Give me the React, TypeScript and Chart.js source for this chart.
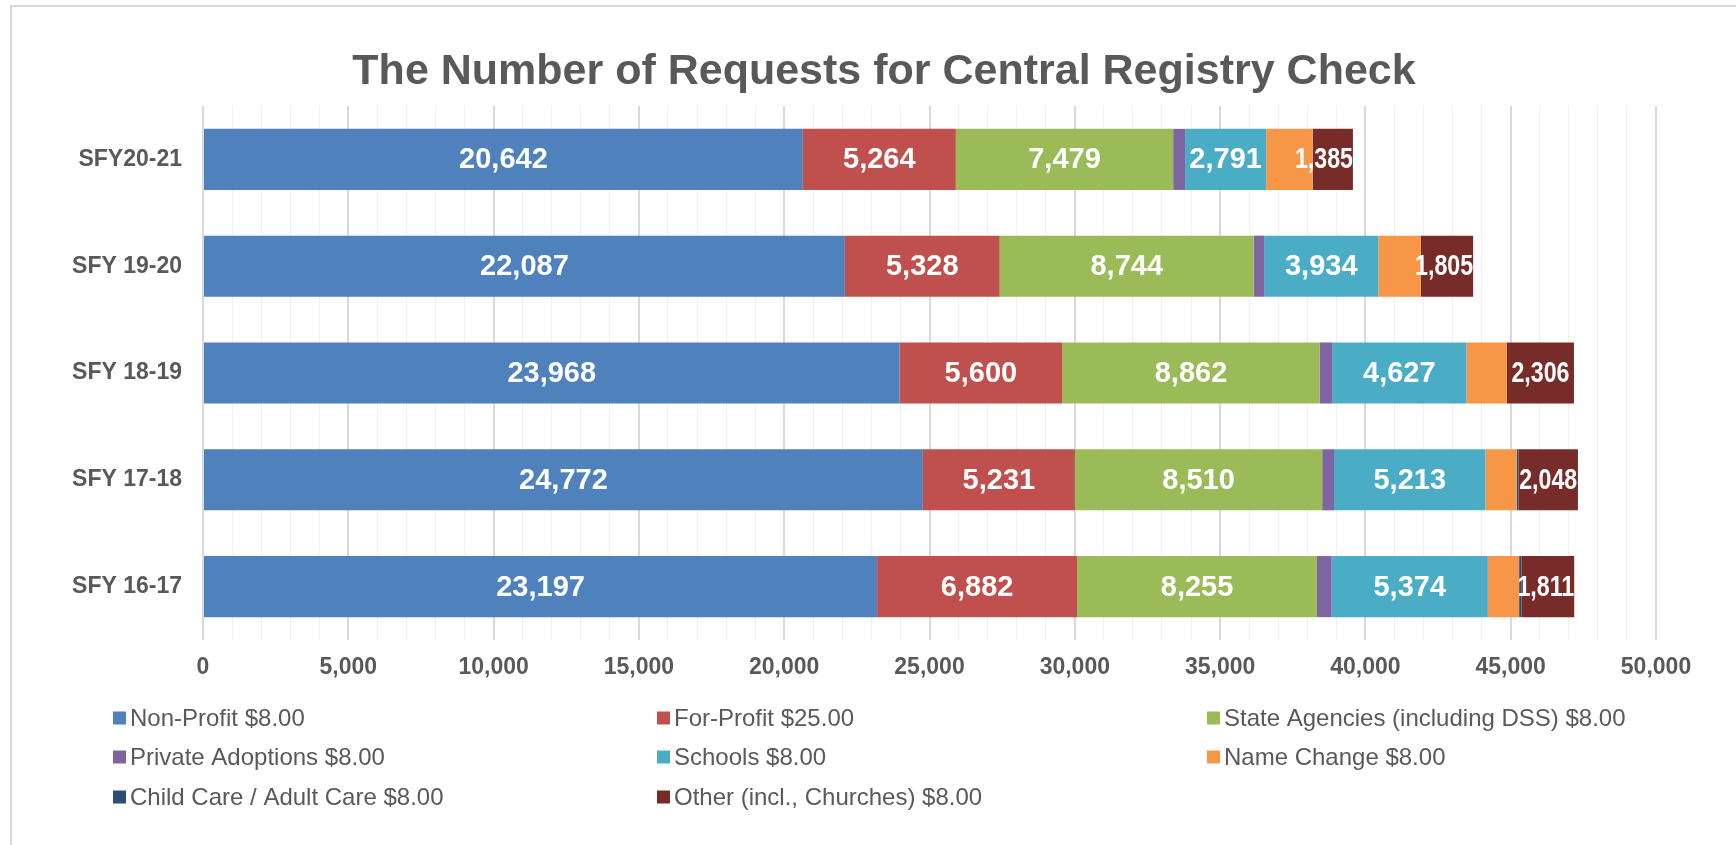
import React, { useEffect, useRef } from "react";
import { Chart, registerables } from "chart.js";

Chart.register(...registerables);

const categories = ["SFY20-21", "SFY 19-20", "SFY 18-19", "SFY 17-18", "SFY 16-17"];
const seriesNames = [
  "Non-Profit $8.00",
  "For-Profit $25.00",
  "State Agencies (including DSS) $8.00",
  "Private Adoptions $8.00",
  "Schools $8.00",
  "Name Change $8.00",
  "Child Care / Adult Care $8.00",
  "Other (incl., Churches) $8.00",
];
const nonProfit = [20642, 22087, 23968, 24772, 23197];
const forProfit = [5264, 5328, 5600, 5231, 6882];
const stateAgencies = [7479, 8744, 8862, 8510, 8255];
const privateAdoptions = [410, 355, 424, 406, 505];
const schools = [2791, 3934, 4627, 5213, 5374];
const nameChange = [1600, 1455, 1390, 1074, 1077];
const childCare = [0, 0, 0, 60, 85];
const other = [1385, 1805, 2306, 2048, 1811];
const labelled = [true, true, true, false, true, false, false, true];
const colors = ["#4F81BD", "#C0504D", "#9BBB59", "#8064A2", "#4BACC6", "#F79646", "#2C4D75", "#772C2A"];
const titleText = "The Number of Requests for Central Registry Check";
const xTicksMax = 50000;

const FONT = "'Liberation Sans', Arial, sans-serif";
const GREY = "#595959";

const titlePlugin = {
  id: "customTitle",
  afterDraw(chart: any) {
    const ctx = chart.ctx;
    ctx.save();
    ctx.font = `bold 43px ${FONT}`;
    ctx.fillStyle = GREY;
    ctx.textAlign = "center";
    ctx.textBaseline = "middle";
    ctx.fillText(titleText, 884, 72);
    ctx.restore();
  },
};

const dataLabelPlugin = {
  id: "dataLabels",
  afterDatasetsDraw(chart: any) {
    const ctx = chart.ctx;
    ctx.save();
    ctx.font = `bold 29px ${FONT}`;
    ctx.fillStyle = "#ffffff";
    ctx.textBaseline = "middle";
    ctx.textAlign = "center";
    chart.data.datasets.forEach((ds: any, i: number) => {
      if (!labelled[i]) return;
      const meta = chart.getDatasetMeta(i);
      const isLast = i === chart.data.datasets.length - 1;
      meta.data.forEach((el: any, j: number) => {
        const v = ds.data[j];
        if (!v) return;
        const { x, base, y } = el.getProps(["x", "base", "y"], true);
        const text = v.toLocaleString("en-US");
        const sx = isLast ? 0.8 : 1;
        const w = ctx.measureText(text).width * sx;
        const segW = x - base;
        let cx = (x + base) / 2;
        if (w > segW) cx = x - w / 2;
        ctx.save();
        ctx.translate(cx, y + 1);
        ctx.scale(sx, 1);
        ctx.fillText(text, 0, 0);
        ctx.restore();
      });
    });
    ctx.restore();
  },
};

const legendPlugin = {
  id: "gridLegend",
  afterDraw(chart: any) {
    const ctx = chart.ctx;
    const colX = [113, 657, 1207];
    const rowY = [718, 757, 797];
    ctx.save();
    ctx.font = `24px ${FONT}`;
    ctx.textBaseline = "middle";
    ctx.textAlign = "left";
    chart.data.datasets.forEach((ds: any, i: number) => {
      const cx = colX[i % 3];
      const cy = rowY[Math.floor(i / 3)];
      ctx.fillStyle = ds.backgroundColor;
      ctx.fillRect(cx, cy - 6.5, 13, 13);
      ctx.fillStyle = GREY;
      ctx.fillText(ds.label, cx + 17, cy + 1);
    });
    ctx.restore();
  },
};

export default function App() {
  const ref = useRef<HTMLCanvasElement>(null);
  useEffect(() => {
    const values = [nonProfit, forProfit, stateAgencies, privateAdoptions, schools, nameChange, childCare, other];
    const chart = new Chart(ref.current!, {
      type: "bar",
      data: {
        labels: categories,
        datasets: values.map((d, i) => ({
          label: seriesNames[i],
          data: d,
          backgroundColor: colors[i],
          borderWidth: 0,
          categoryPercentage: 1,
          barPercentage: 0.572,
        })),
      },
      options: {
        indexAxis: "y",
        responsive: false,
        animation: false,
        layout: { padding: { left: 0, right: 80, top: 106, bottom: 163 } },
        plugins: {
          legend: { display: false },
          tooltip: { enabled: false },
          title: { display: false },
        },
        scales: {
          x: {
            stacked: true,
            min: 0,
            max: xTicksMax,
            border: { display: false },
            grid: {
              drawTicks: false,
              color: (c: any) => (c.tick && c.tick.value % 5000 === 0 ? "#d9d9d9" : "#efefef"),
              lineWidth: (c: any) => (c.tick && c.tick.value % 5000 === 0 ? 2 : 1),
            },
            ticks: {
              stepSize: 1000,
              autoSkip: false,
              maxRotation: 0,
              padding: 14,
              color: GREY,
              font: { family: FONT, size: 23, weight: "bold" },
              callback: (v: any) => (Number(v) % 5000 === 0 ? Number(v).toLocaleString("en-US") : ""),
            },
            afterFit: (s: any) => {
              s.height = 42;
            },
          },
          y: {
            stacked: true,
            border: { display: false },
            grid: { display: false, drawTicks: false },
            ticks: {
              padding: 21,
              color: GREY,
              font: { family: FONT, size: 23, weight: "bold" },
            },
            afterFit: (s: any) => {
              s.width = 203;
            },
          },
        },
      },
      plugins: [dataLabelPlugin, legendPlugin, titlePlugin],
    });
    return () => chart.destroy();
  }, []);

  return (
    <div style={{ position: "fixed", left: 0, top: 0, width: 1736, height: 845, background: "#fff" }}>
      <div
        style={{
          position: "absolute",
          left: 10,
          top: 5,
          right: -4,
          bottom: -4,
          borderTop: "2px solid #d9d9d9",
          borderLeft: "2px solid #d9d9d9",
        }}
      />
      <canvas ref={ref} width={1736} height={845} style={{ position: "absolute", left: 0, top: 0 }} />
    </div>
  );
}
